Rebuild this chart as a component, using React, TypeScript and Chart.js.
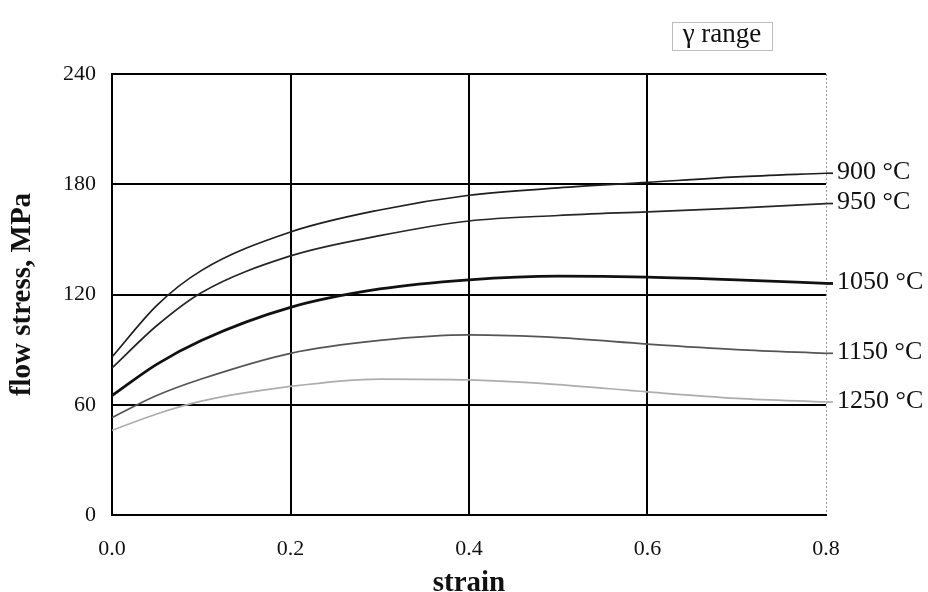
import React, { useEffect, useRef } from "react";
import { Chart, registerables } from "chart.js";

Chart.register(...registerables);

const strain = [0, 0.05, 0.1, 0.2, 0.3, 0.4, 0.5, 0.6, 0.7, 0.8];
const s900 = [86, 114, 133, 154, 166, 174, 178, 181, 184, 186];
const s950 = [80, 103, 121, 141, 152, 160, 163, 165, 167, 169.5];
const s1050 = [65, 82, 95, 113, 123, 128, 130, 129.5, 128, 126];
const s1150 = [53, 65, 74, 88, 95, 98, 96.5, 93, 90, 88];
const s1250 = [46, 55, 62, 70, 74, 73.5, 71, 67, 63.5, 61.5];
const seriesLabels = ["900 °C", "950 °C", "1050 °C", "1150 °C", "1250 °C"];
const xTicks = [0, 0.2, 0.4, 0.6, 0.8];
const yTicks = [0, 60, 120, 180, 240];

const FONT = '"Liberation Serif", "Times New Roman", serif';

const seriesStyle = [
  { color: "#1e1e1e", width: 1.7 },
  { color: "#262626", width: 1.7 },
  { color: "#111111", width: 2.8 },
  { color: "#555555", width: 1.7 },
  { color: "#adadad", width: 1.7 },
];

const labelPlugin = {
  id: "seriesLabels",
  afterDraw(chart: any) {
    const { ctx, chartArea } = chart;
    const yScale = chart.scales.y;
    ctx.save();
    ctx.font = `26px ${FONT}`;
    ctx.fillStyle = "#111";
    ctx.textBaseline = "middle";
    ctx.textAlign = "left";
    chart.data.datasets.forEach((ds: any, i: number) => {
      const last = ds.data[ds.data.length - 1];
      const y = yScale.getPixelForValue(last.y);
      ctx.strokeStyle = seriesStyle[i].color;
      ctx.lineWidth = seriesStyle[i].width;
      ctx.beginPath();
      ctx.moveTo(chartArea.right, y);
      ctx.lineTo(chartArea.right + 7, y);
      ctx.stroke();
      ctx.fillText(seriesLabels[i], chartArea.right + 11, y - 1);
    });
    // "γ range" annotation box
    ctx.strokeStyle = "#bdbdbd";
    ctx.lineWidth = 1;
    ctx.strokeRect(672.5, 22.5, 100, 28);
    ctx.font = `27px ${FONT}`;
    ctx.fillStyle = "#111";
    ctx.textAlign = "center";
    ctx.fillText("γ range", 722, 35);
    ctx.restore();
  },
};

export default function App() {
  const ref = useRef<HTMLCanvasElement>(null);
  useEffect(() => {
    if (!ref.current) return;
    const all = [s900, s950, s1050, s1150, s1250];
    const chart = new Chart(ref.current, {
      type: "line",
      data: {
        datasets: all.map((arr, i) => ({
          label: seriesLabels[i],
          data: strain.map((x, j) => ({ x, y: arr[j] })),
          borderColor: seriesStyle[i].color,
          borderWidth: seriesStyle[i].width,
          pointRadius: 0,
          fill: false,
          cubicInterpolationMode: "monotone" as const,
        })),
      },
      options: {
        animation: false,
        responsive: false,
        devicePixelRatio: 1,
        layout: { padding: { top: 74, right: 102, left: 0, bottom: 0 } },
        plugins: { legend: { display: false }, tooltip: { enabled: false } },
        scales: {
          x: {
            type: "linear",
            min: 0,
            max: 0.8,
            afterBuildTicks: (s: any) => {
              s.ticks = xTicks.map((v) => ({ value: v }));
            },
            afterFit: (s: any) => {
              s.height = 77;
            },
            ticks: {
              color: "#111",
              font: { family: FONT, size: 22 },
              padding: 21,
              maxRotation: 0,
              callback: (v: any) => Number(v).toFixed(1),
            },
            grid: {
              drawTicks: false,
              color: (c: any) => (c.tick && c.tick.value === 0.8 ? "#9a9a9a" : "#000"),
              lineWidth: (c: any) => (c.tick && c.tick.value === 0.8 ? 1 : 2),
            },
            border: {
              color: "#000",
              width: 2,
              dash: (c: any) => (c.tick && c.tick.value === 0.8 ? [2, 2] : []),
            },
            title: {
              display: true,
              text: "strain",
              color: "#111",
              font: { family: FONT, size: 29, weight: "bold" },
              padding: { top: 0, bottom: -9 },
            },
          },
          y: {
            type: "linear",
            min: 0,
            max: 240,
            afterBuildTicks: (s: any) => {
              s.ticks = yTicks.map((v) => ({ value: v }));
            },
            afterFit: (s: any) => {
              s.width = 112;
            },
            ticks: {
              color: "#111",
              font: { family: FONT, size: 22 },
              padding: 16,
            },
            grid: { drawTicks: false, color: "#000", lineWidth: 2 },
            border: { color: "#000", width: 2 },
            title: {
              display: true,
              text: "flow stress, MPa",
              color: "#111",
              font: { family: FONT, size: 29, weight: "bold" },
              padding: { top: 5, bottom: 0 },
            },
          },
        },
      },
      plugins: [labelPlugin],
    });
    return () => chart.destroy();
  }, []);
  return (
    <div style={{ position: "absolute", left: 0, top: 0, width: 928, height: 592, background: "#fff" }}>
      <canvas ref={ref} width={928} height={592} style={{ display: "block" }} />
    </div>
  );
}
